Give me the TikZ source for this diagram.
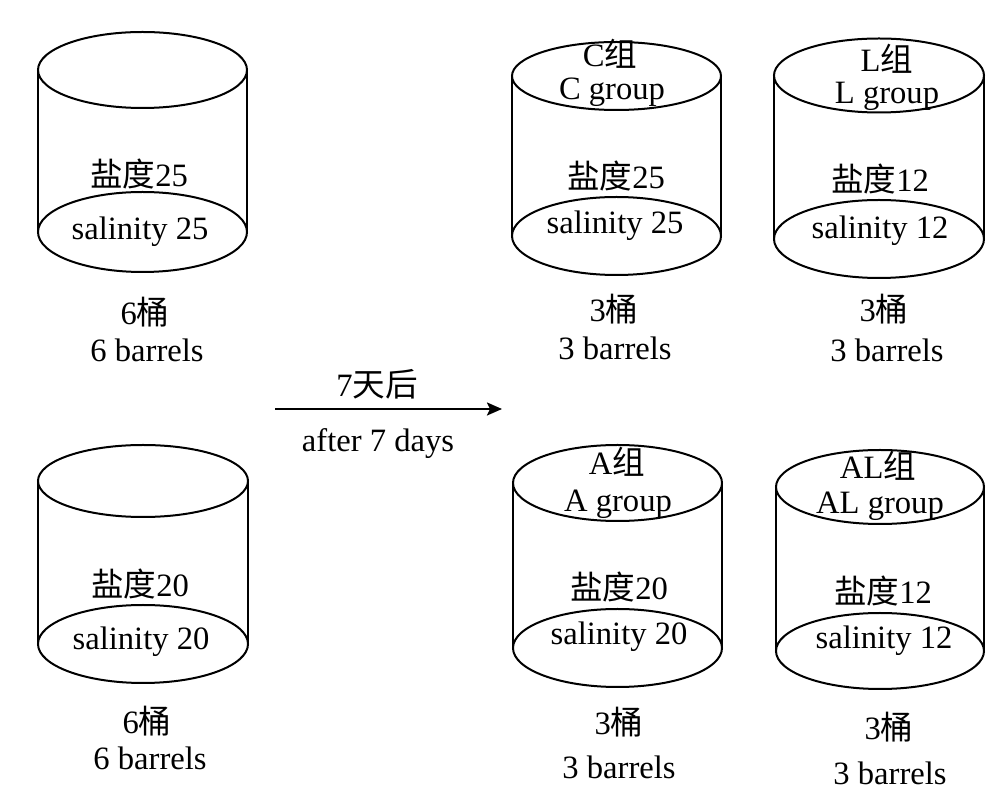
\documentclass[tikz,border=0pt]{standalone}
\usepackage{fontspec}
\setmainfont{Liberation Serif}
\newfontfamily\cjk{Noto Sans CJK SC}
\usetikzlibrary{arrows.meta}
\tikzset{
  lbl/.style={inner sep=0pt, text height=0.7em, text depth=0.2em, yshift=-3.2pt, font=\fontsize{16.3}{19}\selectfont},
  rim/.style={line width=1pt},
  flow/.style={line width=1.1pt, -{Stealth[length=7.5pt,width=6.5pt,inset=1.5pt]}}
}
% #1 name, #2 xl, #3 xr, #4 top cy, #5 top ry, #6 bottom cy, #7 bottom ry
\newcommand{\mybarrel}[7]{%
  \draw[rim] ({(#2+#3)/2},#4) ellipse [x radius={(#3-#2)/2}, y radius=#5];
  \draw[rim] ({(#2+#3)/2},#6) ellipse [x radius={(#3-#2)/2}, y radius=#7];
  \draw[rim] (#2,#4) -- (#2,#6);
  \draw[rim] (#3,#4) -- (#3,#6);
}
\begin{document}
\begin{tikzpicture}[x=0.5pt,y=-0.5pt]
\useasboundingbox (0,0) rectangle (1008,806);
\fill[white] (0,0) rectangle (1008,806);

% barrel 1 (top left)
\mybarrel{b1}{38}{247}{70}{38}{232}{40}
\node[lbl] (b1s) at (139,175) {{\cjk 盐度}25};
\node[lbl] (b1e) at (140,228) {salinity 25};
\node[lbl] (b1n) at (145,313) {6{\cjk 桶}};
\node[lbl] (b1b) at (147,350) {6 barrels};

% barrel 2 (bottom left)
\mybarrel{b2}{38}{248}{481}{36}{644}{39}
\node[lbl] (b2s) at (140,585) {{\cjk 盐度}20};
\node[lbl] (b2e) at (141,638) {salinity 20};
\node[lbl] (b2n) at (147,722) {6{\cjk 桶}};
\node[lbl] (b2b) at (150,758) {6 barrels};

% barrel C
\mybarrel{bc}{512}{721}{76}{34}{236}{39}
\node[lbl] (bcg) at (610,55) {C{\cjk 组}};
\node[lbl] (bce) at (612,88) {C group};
\node[lbl] (bcs) at (616,177) {{\cjk 盐度}25};
\node[lbl] (bcl) at (615,222) {salinity 25};
\node[lbl] (bcn) at (614,310) {3{\cjk 桶}};
\node[lbl] (bcb) at (615,348) {3 barrels};

% barrel L
\mybarrel{bl}{774}{984}{75.5}{37}{239}{39}
\node[lbl] (blg) at (887,60) {L{\cjk 组}};
\node[lbl] (ble) at (887,92) {L group};
\node[lbl] (bls) at (880,180) {{\cjk 盐度}12};
\node[lbl] (bll) at (880,227) {salinity 12};
\node[lbl] (bln) at (884,310) {3{\cjk 桶}};
\node[lbl] (blb) at (887,350) {3 barrels};

% barrel A
\mybarrel{ba}{513}{722}{483}{38}{648}{39}
\node[lbl] (bag) at (617,463) {A{\cjk 组}};
\node[lbl] (bae) at (618,500) {A group};
\node[lbl] (bas) at (619,588) {{\cjk 盐度}20};
\node[lbl] (bal) at (619,633) {salinity 20};
\node[lbl] (ban) at (619,723) {3{\cjk 桶}};
\node[lbl] (bab) at (619,767) {3 barrels};

% barrel AL
\mybarrel{bal}{776}{984}{487}{37}{651}{38}
\node[lbl] (blag) at (878,467) {AL{\cjk 组}};
\node[lbl] (blae) at (880,502) {AL group};
\node[lbl] (blas) at (883,592) {{\cjk 盐度}12};
\node[lbl] (blal) at (884,637) {salinity 12};
\node[lbl] (blan) at (889,728) {3{\cjk 桶}};
\node[lbl] (blab) at (890,773) {3 barrels};

% arrow
\coordinate (arrS) at (275,409);
\coordinate (arrE) at (502,409);
\draw[flow] (arrS) -- (arrE);
\node[lbl] (arrT) at (377,385) {7{\cjk 天后}};
\node[lbl] (arrB) at (378,440) {after 7 days};
\end{tikzpicture}
\end{document}
